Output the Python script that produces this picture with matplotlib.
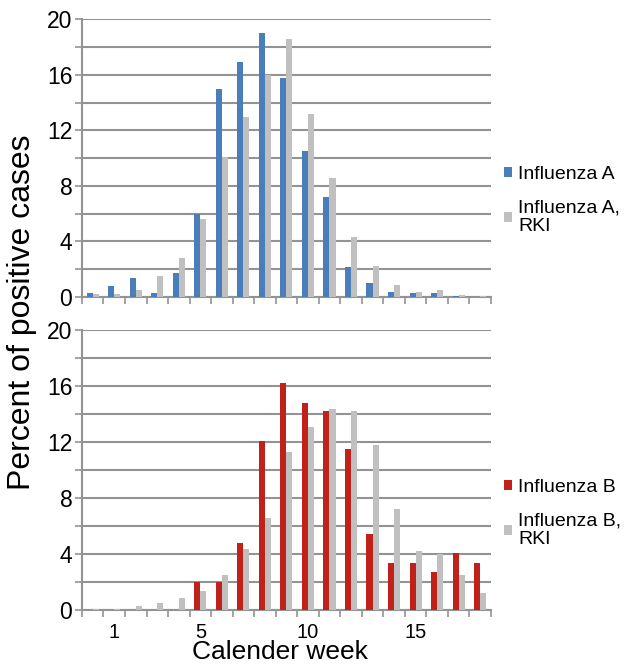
import numpy as np
import matplotlib
matplotlib.use('Agg')
import matplotlib.pyplot as plt
from matplotlib.ticker import MultipleLocator, FixedLocator

plt.rcParams['font.family'] = ['Liberation Sans', 'DejaVu Sans']

# calendar weeks shown on the category axis
weeks = list(range(0, 19))
week_labels = {1: '1', 5: '5', 10: '10', 15: '15'}

# percent of positive cases per week
flu_a = [0.3, 0.8, 1.4, 0.3, 1.75, 5.95, 15.0, 16.9, 19.0, 15.8,
         10.5, 7.2, 2.15, 1.0, 0.35, 0.3, 0.3, 0.1, 0.0]
flu_a_rki = [0.2, 0.2, 0.5, 1.5, 2.8, 5.65, 10.1, 13.0, 16.0, 18.6,
             13.2, 8.6, 4.3, 2.2, 0.9, 0.35, 0.5, 0.15, 0.05]
flu_b = [0.0, 0.0, 0.0, 0.0, 0.0, 2.0, 2.0, 4.8, 12.1, 16.2,
         14.8, 14.2, 11.5, 5.45, 3.4, 3.4, 2.7, 4.1, 3.4]
flu_b_rki = [0.1, 0.1, 0.3, 0.48, 0.86, 1.38, 2.52, 4.33, 6.55, 11.3,
             13.1, 14.4, 14.2, 11.8, 7.2, 4.2, 4.0, 2.5, 1.2]

BLUE = '#4a7ebb'
GRAY = '#c0c0c0'
RED = '#c0211a'
GRID = '#939393'

fig = plt.figure(figsize=(6.33, 6.66), dpi=100)
ax_top = fig.add_axes([0.1295, 0.554, 0.646, 0.417])
ax_bot = fig.add_axes([0.1295, 0.084, 0.646, 0.420])

x = np.arange(len(weeks))
w = 0.28


def draw_panel(ax, vals, rki, color, label, rki_label, show_labels, legend_y):
    b1 = ax.bar(x - w / 2, vals, width=w, color=color, label=label, zorder=3)
    b2 = ax.bar(x + w / 2, rki, width=w, color=GRAY, label=rki_label, zorder=3)
    ax.set_xlim(-0.5, len(weeks) - 0.5)
    ax.set_ylim(0, 20)
    ax.yaxis.set_major_locator(MultipleLocator(4))
    ax.yaxis.set_minor_locator(MultipleLocator(2))
    ax.grid(axis='y', which='both', color=GRID, linewidth=1.5, zorder=0)
    ax.tick_params(axis='y', which='both', direction='out', length=5,
                   color=GRID, width=1.2, labelsize=16.5, pad=2)
    ax.xaxis.set_minor_locator(FixedLocator(np.arange(-0.5, len(weeks), 1.0)))
    ax.tick_params(axis='x', which='minor', direction='out', length=5,
                   color=GRID, width=1.2)
    if show_labels:
        pos = [weeks.index(k) for k in week_labels]
        ax.set_xticks(pos)
        ax.set_xticklabels(list(week_labels.values()))
        ax.tick_params(axis='x', which='major', length=0, labelsize=14.5, pad=9)
    else:
        ax.set_xticks([])
    for s in ['top', 'right']:
        ax.spines[s].set_visible(False)
    for s in ['left', 'bottom']:
        ax.spines[s].set_color(GRID)
        ax.spines[s].set_linewidth(1.5)
    leg = fig.legend(handles=[b1, b2], loc='upper left',
                     bbox_to_anchor=(0.768, legend_y), frameon=False,
                     fontsize=14, handlelength=0.45, handleheight=0.45,
                     handletextpad=0.3, labelspacing=0.85)
    for t in leg.get_texts():
        t.set_linespacing(1.1)


draw_panel(ax_top, flu_a, flu_a_rki, BLUE, 'Influenza A', 'Influenza A,\nRKI',
           False, 0.777)
draw_panel(ax_bot, flu_b, flu_b_rki, RED, 'Influenza B', 'Influenza B,\nRKI',
           True, 0.307)

fig.text(0.035, 0.531, 'Percent of positive cases', rotation=90,
         ha='center', va='center', fontsize=23)
fig.text(0.442, 0.021, 'Calender week', ha='center', va='center', fontsize=19)

plt.savefig('out.png', dpi=100)
plt.close()
